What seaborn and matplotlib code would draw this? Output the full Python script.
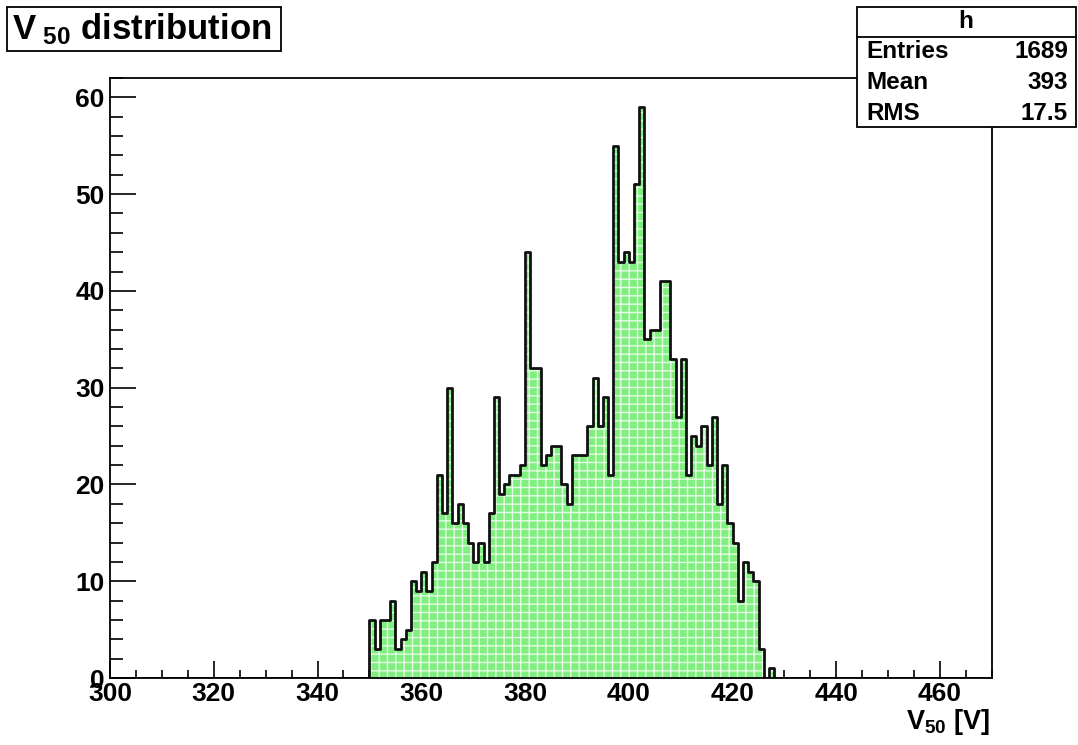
import numpy as np
import pandas as pd
import matplotlib
matplotlib.use("Agg")
import matplotlib.pyplot as plt
import seaborn as sns
from matplotlib.patches import Rectangle
from matplotlib.lines import Line2D
from matplotlib.ticker import MultipleLocator

# ---- data ----
bin_low = list(range(350, 428))
counts = [6, 3, 6, 6, 8, 3, 4, 5, 10, 9,
          11, 9, 12, 21, 17, 30, 16, 18, 16, 14,
          12, 14, 12, 17, 29, 19, 20, 21, 21, 22,
          44, 32, 32, 22, 23, 24, 24, 20, 18, 23,
          23, 23, 26, 31, 26, 29, 21, 55, 43, 44,
          43, 51, 59, 35, 36, 36, 41, 41, 33, 27,
          33, 21, 25, 24, 26, 22, 27, 18, 22, 16,
          14, 8, 12, 11, 10, 3, 0, 1]
x_range = (300, 470)
n_bins = 170
title_text = "distribution"
stats_name = "h"
stats_labels = ["Entries", "Mean", "RMS"]
stats_values = ["1689", "393", "17.5"]
xticks = [300, 320, 340, 360, 380, 400, 420, 440, 460]
yticks = [0, 10, 20, 30, 40, 50, 60]

df = pd.DataFrame({"v": np.array(bin_low, dtype=float) + 0.5,
                   "n": np.array(counts, dtype=float)})

sns.set_style("white")
plt.rcParams["font.family"] = ["Liberation Sans", "DejaVu Sans"]
plt.rcParams["font.weight"] = "bold"
plt.rcParams["text.color"] = "black"
plt.rcParams["xtick.color"] = "black"
plt.rcParams["ytick.color"] = "black"
plt.rcParams["mathtext.fontset"] = "custom"
plt.rcParams["mathtext.rm"] = "Liberation Sans:bold"
plt.rcParams["mathtext.bf"] = "Liberation Sans:bold"
plt.rcParams["mathtext.it"] = "Liberation Sans:bold"
plt.rcParams["hatch.linewidth"] = 1.0

W, H = 1078, 745
fig = plt.figure(figsize=(W / 100, H / 100), dpi=100)
ax = fig.add_axes([110 / W, 1 - 678 / H, (992 - 110) / W, (678 - 78) / H])

# fill with dotted green pattern
sns.histplot(data=df, x="v", weights="n", bins=n_bins, binrange=x_range,
             element="step", fill=True, ax=ax, color="#00ee00", alpha=1,
             linewidth=0)
for coll in ax.collections:
    coll.set_facecolor("#80ef80")
    coll.set_edgecolor("#e4fce4")
    coll.set_hatch("++")
    coll.set_linewidth(0)
# outline
sns.histplot(data=df, x="v", weights="n", bins=n_bins, binrange=x_range,
             element="step", fill=False, ax=ax, color="#111111", linewidth=2.0)

ax.set_xlim(*x_range)
ax.set_ylim(0, 62)
ax.set_xlabel("")
ax.set_ylabel("")
ax.set_xticks(xticks)
ax.set_yticks(yticks)
ax.xaxis.set_minor_locator(MultipleLocator(5))
ax.yaxis.set_minor_locator(MultipleLocator(2))
ax.tick_params(axis="x", which="major", direction="in", length=12, width=1.2,
               labelsize=19, pad=3, top=False, bottom=True, labelcolor="black")
ax.tick_params(axis="x", which="minor", direction="in", length=6, width=1.2,
               top=False, bottom=True)
ax.tick_params(axis="y", which="major", direction="in", length=19, width=1.2,
               labelsize=19, pad=4, right=False, left=True, labelcolor="black")
ax.tick_params(axis="y", which="minor", direction="in", length=9.5, width=1.2,
               right=False, left=True)
for lab in ax.get_xticklabels() + ax.get_yticklabels():
    lab.set_fontweight("bold")
for sp in ax.spines.values():
    sp.set_linewidth(1.3)
    sp.set_color("black")

# x-axis title
fig.text(990 / W, 1 - 722 / H, r"$\mathrm{V_{50}}$ [V]", ha="right", va="center",
         fontsize=19.5, fontweight="bold")

# title box
fig.patches.append(Rectangle((7 / W, 1 - 51 / H), (281 - 7) / W, (51 - 7) / H,
                             transform=fig.transFigure, facecolor="white",
                             edgecolor="black", linewidth=1.3))
fig.text(12 / W, 1 - 29 / H, r"$\mathrm{V_{\ 50}}$ " + title_text, ha="left", va="center",
         fontsize=25, fontweight="bold")

# stats box
fig.patches.append(Rectangle((857 / W, 1 - 127 / H), (1076 - 857) / W, (127 - 7) / H,
                             transform=fig.transFigure, facecolor="white",
                             edgecolor="black", linewidth=1.3, zorder=5))
fig.lines.append(Line2D([857 / W, 1076 / W], [1 - 37 / H, 1 - 37 / H],
                        transform=fig.transFigure, color="black", linewidth=1.3, zorder=6))
fig.text(966 / W, 1 - 22 / H, stats_name, ha="center", va="center", fontsize=17.5,
         fontweight="bold", zorder=7)
for i, (lab, val) in enumerate(zip(stats_labels, stats_values)):
    yy = 1 - (52 + 30.5 * i) / H
    fig.text(866 / W, yy, lab, ha="left", va="center", fontsize=17.5, fontweight="bold", zorder=7)
    fig.text(1068 / W, yy, val, ha="right", va="center", fontsize=17.5, fontweight="bold", zorder=7)

fig.savefig("out.png", dpi=100)
